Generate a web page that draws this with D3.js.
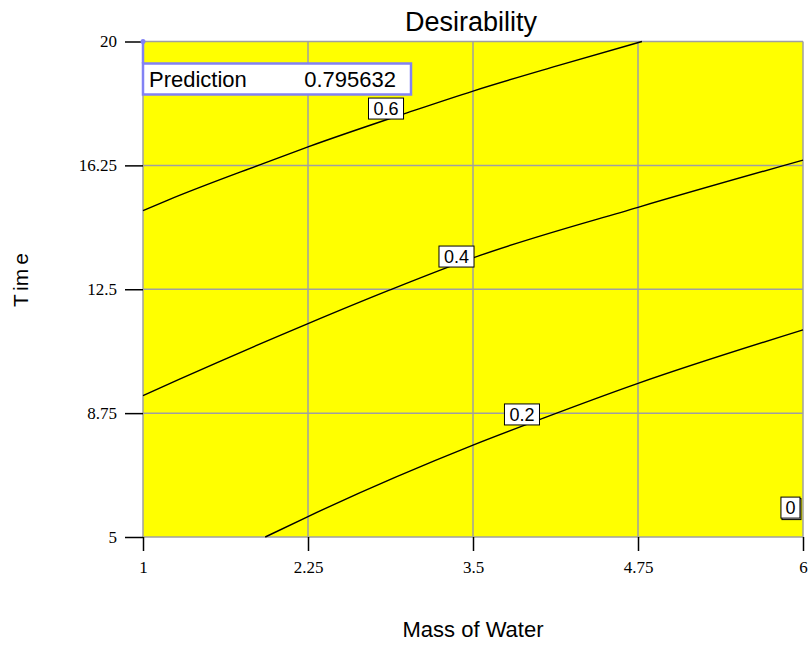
<!DOCTYPE html>
<html>
<head>
<meta charset="utf-8">
<script src="https://cdn.jsdelivr.net/npm/d3@7"></script>
<style>
  html, body { margin: 0; padding: 0; background: #ffffff; }
  svg { display: block; }
</style>
</head>
<body>
<svg id="chart" width="808" height="646"></svg>
<script>
// ---------- data ----------
const chartTitle = "Desirability";
const xTitle = "Mass of Water";
const yTitle = ["T", "im", "e"]; // "Time"
const xDomain = [1, 6];
const yDomain = [5, 20];
const xTicks = [1, 2.25, 3.5, 4.75, 6];
const yTicks = [5, 8.75, 12.5, 16.25, 20];

// contour levels and their traced paths (Mass of Water, Time)
const contourLevels = [0.6, 0.4, 0.2, 0];
const contour06 = [[1.000, 14.88], [1.189, 15.20], [1.879, 16.26], [2.250, 16.81], [3.000, 17.84], [3.500, 18.50], [4.136, 19.26], [4.780, 20.00]];
const contour04 = [[1.000, 9.28], [1.273, 9.77], [2.250, 11.46], [2.871, 12.48], [3.500, 13.45], [4.750, 14.98], [6.000, 16.41]];
const contour02 = [[1.926, 5.00], [2.250, 5.62], [3.500, 7.78], [4.028, 8.59], [4.750, 9.65], [6.000, 11.27]];
const contourLabelPos = [[2.841, 17.97], [3.375, 13.49], [3.871, 8.71], [5.905, 5.89]];

const predictionLabel = "Prediction";
const predictionValue = "0.795632";
const predictionPoint = [1, 20];

// ---------- layout ----------
const svg = d3.select("#chart");
const x = d3.scaleLinear().domain(xDomain).range([143, 803]);
const y = d3.scaleLinear().domain(yDomain).range([537, 41.5]);

const sans = "'Liberation Sans', Arial, Helvetica, sans-serif";
const serif = "'Liberation Serif', 'Times New Roman', serif";

// plot background
svg.append("rect")
  .attr("x", x(xDomain[0])).attr("y", y(yDomain[1]))
  .attr("width", x(xDomain[1]) - x(xDomain[0]))
  .attr("height", y(yDomain[0]) - y(yDomain[1]))
  .attr("fill", "#ffff00");

// grid
const grid = svg.append("g").attr("stroke", "#a0a0a0").attr("stroke-width", 1.5);
grid.selectAll(".vx").data(xTicks).enter().append("line")
  .attr("x1", d => x(d)).attr("x2", d => x(d))
  .attr("y1", y(yDomain[0])).attr("y2", y(yDomain[1]));
grid.selectAll(".hy").data(yTicks).enter().append("line")
  .attr("y1", d => y(d)).attr("y2", d => y(d))
  .attr("x1", x(xDomain[0])).attr("x2", x(xDomain[1]));

// contours
const line = d3.line().x(d => x(d[0])).y(d => y(d[1])).curve(d3.curveMonotoneX);
const contours = [contour06, contour04, contour02];
svg.append("g").selectAll("path").data(contours).enter().append("path")
  .attr("d", line)
  .attr("fill", "none")
  .attr("stroke", "#000")
  .attr("stroke-width", 1.4);

// contour labels
const labG = svg.append("g");
contourLevels.forEach((lv, i) => {
  const g = labG.append("g");
  const cx = x(contourLabelPos[i][0]), cy = y(contourLabelPos[i][1]);
  const t = g.append("text")
    .attr("x", cx)
    .attr("y", cy)
    .attr("dy", "0.36em")
    .attr("text-anchor", "middle")
    .attr("font-family", sans)
    .attr("font-size", 18)
    .text(String(lv));
  const bb = t.node().getBBox();
  if (lv === 0) {
    g.insert("rect", "text")
      .attr("x", bb.x - 4.5 + 1).attr("y", cy - 10.5 + 1.5)
      .attr("width", bb.width + 9).attr("height", 21)
      .attr("fill", "#fff").attr("stroke", "#000").attr("stroke-width", 1);
  }
  g.insert("rect", "text")
    .attr("x", bb.x - (lv === 0 ? 4.5 : 5)).attr("y", cy - 10.5)
    .attr("width", bb.width + (lv === 0 ? 9 : 10)).attr("height", 21)
    .attr("fill", "#fff").attr("stroke", "#000").attr("stroke-width", 1);
});

// axes
const xAxis = d3.axisBottom(x).tickValues(xTicks).tickSize(14).tickPadding(10)
  .tickFormat(d => String(d));
const gx = svg.append("g").attr("transform", `translate(0,${y(yDomain[0])})`).call(xAxis);
gx.select(".domain").remove();
gx.selectAll("line").attr("stroke", "#000").attr("stroke-width", 1.5);
gx.selectAll("text").attr("font-family", serif).attr("font-size", 17).attr("fill", "#000");

const yAxis = d3.axisLeft(y).tickValues(yTicks).tickSize(18).tickPadding(8)
  .tickFormat(d => String(d));
const gy = svg.append("g").attr("transform", `translate(${x(xDomain[0])},0)`).call(yAxis);
gy.select(".domain").remove();
gy.selectAll("line").attr("stroke", "#000").attr("stroke-width", 1.5);
gy.selectAll("text").attr("font-family", serif).attr("font-size", 17).attr("fill", "#000");

// prediction flag
const px = x(predictionPoint[0]), py = y(predictionPoint[1]);
const flagColor = "#8282f4";
svg.append("line").attr("x1", px).attr("x2", px).attr("y1", py).attr("y2", py + 22)
  .attr("stroke", flagColor).attr("stroke-width", 2.5);
svg.append("circle").attr("cx", px).attr("cy", py).attr("r", 2.5).attr("fill", flagColor);
svg.append("rect").attr("x", px).attr("y", py + 22).attr("width", 268).attr("height", 31)
  .attr("fill", "#fff").attr("stroke", flagColor).attr("stroke-width", 2.5);
svg.append("text").attr("x", px + 6).attr("y", py + 45)
  .attr("font-family", sans).attr("font-size", 22).text(predictionLabel);
svg.append("text").attr("x", px + 253).attr("y", py + 45).attr("text-anchor", "end")
  .attr("font-family", sans).attr("font-size", 22).text(predictionValue);

// titles
svg.append("text").attr("x", 471).attr("y", 31).attr("text-anchor", "middle")
  .attr("font-family", sans).attr("font-size", 27).text(chartTitle);
svg.append("text").attr("x", 473).attr("y", 637).attr("text-anchor", "middle")
  .attr("font-family", sans).attr("font-size", 22).text(xTitle);
const yt = svg.append("text").attr("transform", "translate(28,280) rotate(-90)")
  .attr("text-anchor", "middle").attr("font-family", sans).attr("font-size", 21);
yTitle.forEach((s, i) => yt.append("tspan").attr("dx", i === 0 ? 0 : 4).text(s));
</script>
</body>
</html>
